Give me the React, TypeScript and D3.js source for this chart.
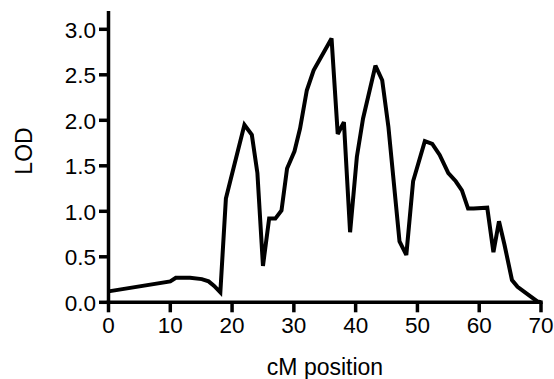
import React from "react";
import * as d3 from "d3";

const cmPosition = [0, 10, 10.9, 13.2, 15.1, 16.2, 17.1, 18.1, 19.0, 19.7, 22.0, 23.2, 24.1, 25.0, 26.0, 27.0, 28.0, 28.9, 30.1, 31.0, 32.1, 33.2, 36.1, 37.1, 38.1, 39.1, 40.2, 41.2, 43.2, 44.3, 45.3, 47.1, 48.2, 49.3, 51.2, 52.4, 53.6, 55.0, 56.2, 57.2, 58.2, 59.1, 61.3, 62.3, 63.2, 64.1, 65.3, 66.2, 67.8, 69.4, 70.0];
const lodValues = [0.12, 0.23, 0.27, 0.27, 0.255, 0.23, 0.18, 0.11, 1.14, 1.33, 1.95, 1.84, 1.42, 0.40, 0.92, 0.92, 1.01, 1.47, 1.66, 1.91, 2.33, 2.55, 2.90, 1.85, 1.98, 0.77, 1.60, 2.02, 2.60, 2.44, 1.93, 0.67, 0.52, 1.33, 1.77, 1.74, 1.62, 1.42, 1.33, 1.23, 1.03, 1.03, 1.04, 0.55, 0.89, 0.63, 0.245, 0.17, 0.09, 0.01, 0.0];
const xTicks = [0, 10, 20, 30, 40, 50, 60, 70];
const yTicks = [0, 0.5, 1.0, 1.5, 2.0, 2.5, 3.0];

export default function App() {
  const W = 554, H = 379;
  const x = d3.scaleLinear().domain([0, 70]).range([108.5, 541]);
  const y = d3.scaleLinear().domain([0, 3]).range([302.3, 29.3]);
  const line = d3.line<number>().x((_, i) => x(cmPosition[i])).y((d) => y(d));
  const font = "Liberation Sans, Arial, sans-serif";
  const fs = 22.5;
  return (
    <svg width={W} height={H} style={{ position: "absolute", left: 0, top: 0, background: "#fff" }}>
      <rect width={W} height={H} fill="#fff" />
      <path d={line(lodValues) || ""} fill="none" stroke="#000" strokeWidth={4} strokeLinejoin="miter" strokeMiterlimit={3} />
      {/* y axis */}
      <line x1={x(0)} x2={x(0)} y1={y(0) + 1.75} y2={11} stroke="#000" strokeWidth={3.5} />
      {yTicks.map((t) => (
        <g key={"y" + t}>
          <line x1={x(0) - 9.5} x2={x(0)} y1={y(t)} y2={y(t)} stroke="#000" strokeWidth={3.5} />
          <text x={96} y={y(t)} dy="0.365em" textAnchor="end" fontFamily={font} fontSize={fs} fill="#000">
            {t.toFixed(1)}
          </text>
        </g>
      ))}
      {/* x axis */}
      <line x1={x(0) - 1.75} x2={x(70) + 1.75} y1={y(0)} y2={y(0)} stroke="#000" strokeWidth={3.5} />
      {xTicks.map((t) => (
        <g key={"x" + t}>
          <line x1={x(t)} x2={x(t)} y1={y(0)} y2={y(0) + 10} stroke="#000" strokeWidth={3.5} />
          <text x={x(t)} y={333.3} textAnchor="middle" fontFamily={font} fontSize={fs} fill="#000">
            {t}
          </text>
        </g>
      ))}
      <text x={325} y={375} textAnchor="middle" fontFamily={font} fontSize={23} fill="#000">
        cM position
      </text>
      <text transform={`translate(31.7,151) rotate(-90)`} textAnchor="middle" fontFamily={font} fontSize={23} fill="#000">
        LOD
      </text>
    </svg>
  );
}
